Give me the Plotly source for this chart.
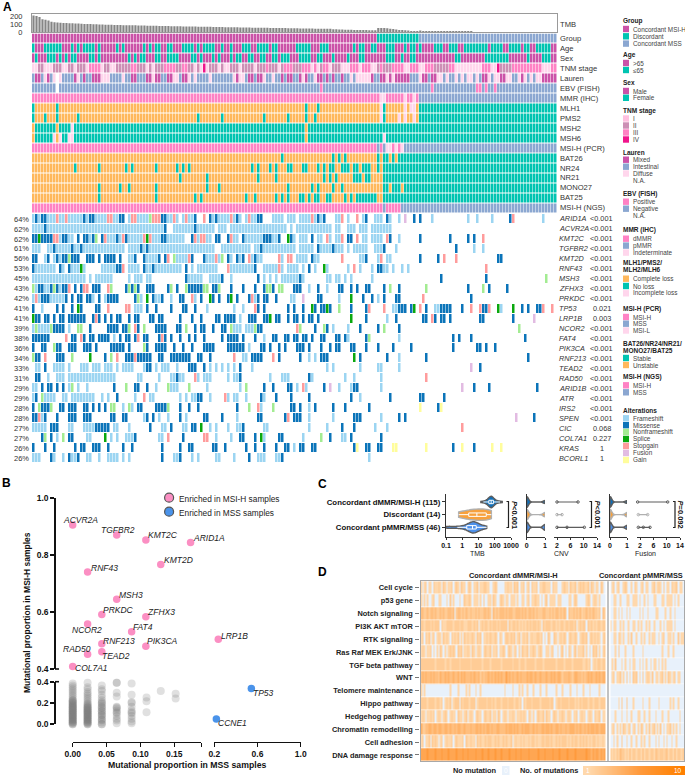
import re
import numpy as np
import plotly.graph_objects as go

W, H = 685, 775
FONT = "Liberation Sans"

# ---- panel A data ----
TMB_MSI = [215, 210, 198, 168, 160, 152, 135, 128, 125, 122,
           120, 118, 116, 115, 113, 112, 110, 108, 107, 105,
           103, 102, 100, 99, 98, 97, 96, 95, 94, 93,
           92, 91, 90, 90, 89, 88, 87, 86, 85, 85,
           84, 83, 82, 81, 80, 80, 79, 78, 78, 77,
           76, 75, 75, 74, 73, 72, 72, 71, 70, 70,
           69, 68, 68, 67, 66, 66, 65, 64, 64, 63,
           62, 62, 61, 60, 60, 59, 58, 58, 57, 56,
           56, 55, 55, 54, 54, 53, 52, 52, 51, 50,
           50, 49, 48, 48, 47, 46, 46, 45, 45, 44,
           40, 38, 36, 35, 34, 33, 32, 31, 30, 29,
           28, 28, 27, 26, 25]
TMB_DISC = [55, 55, 54, 52, 45, 42, 35, 30, 28, 25, 22, 18, 12, 8]
TMB_MSS = [22, 18, 16, 14, 13, 12, 11, 10, 9, 8, 7, 6, 6, 5, 5, 4, 4, 4, 3, 3, 3, 3, 3,
           2, 2, 2, 2, 2, 2, 2, 2, 2, 1, 1, 1, 1, 1, 1, 1, 1, 1, 1, 1, 1, 1, 1]

CLINICAL_ROWS = ["Group", "Age", "Sex", "TNM stage", "Lauren", "EBV (FISH)", "MMR (IHC)", "MLH1",
                 "PMS2", "MSH2", "MSH6", "MSI-H (PCR)", "BAT26", "NR24", "NR21", "MONO27", "BAT25",
                 "MSI-H (NGS)"]
# each row: fill code, then sample ranges that differ from it
CLINICAL_CELLS = [
    ("b", "0-114m 115-128t"),
    ("m", "0t 4-9t 13t 15t 17-20t 22t 28t 30t 37t 39t 41-42t 45-46t 50-53t 55t 57-60t 63t 66t 70-72t 75-78t "
          "80-81t 88-92t 96-98t 107t 109-110t 113-114t 118-120t 124t 126-127t 129t 134-136t 139-141t "
          "144-151t 153-156t 159-162t 164-165t 168-172t"),
    ("m", "1t 5-7t 9t 11t 13-14t 19-20t 22t 32t 34t 36-37t 41-42t 45t 46-48t 53-54t 56t 60t 62t 66t 68-69t "
          "72-73t 76-77t 80-81t 83-85t 89-92t 95-96t 100t 105t 109-110t 118-120t 123t 126-127t 141-142t "
          "151-158t 165t 170-172t"),
    ("r", "0-1l 4-6l 10-11l 14l 18l 19-22p 23l 26-27l 33-34p 38l 40l 44-47p 50-51p 54l 56l 57h 58l 62l "
          "64-65l 69l 74l 78p 82l 84-86p 90-92p 93l 94p 95l 97-98p 99l 103-105l 106-108p 109l 110-112p "
          "113-114l 116p 120-123p 124-125l 126-128p 129-130l 131-133p 139-140p 141-149l 150-152p 153-154l "
          "155h 160-169p 170-172l 173-174p"),
    ("b", "1-2m 4l 5m 7l 8w 9l 14m 15l 17m 20-22m 23-25l 30l 33-34m 38-39m 40l 41-42m 45-46m 47l 48l 50-51m "
          "52l 54l 59l 67l 68m 69-70l 72-73m 75-76m 77l 80l 83m 85-86m 89m 90l 91m 94l 95-96m 98m 100m "
          "103m 106l 108-112l 113m 116-117m 118l 119m 120l 121-125m 129l 130-131m 133-134m 135-136l "
          "138l 141l 143l 145-146l 148l 150l 150-151m 152l 154-155l 156-157m 158-159l 162l 163m 164l "
          "166l 168-169l 170-174m"),
    ("b", "8w 96p 133p 148-149p 151p 154p"),
    ("p", "116-117l 124l 127l 129-174b"),
    ("g", "0t 8t 91t 95t 116l 117t 124l 126-127l 129-174t"),
    ("g", "0t 4t 8t 15t 55t 63t 77t 85t 91t 94t 116l 117t 122l 124l 127l 129-174t"),
    ("t", "0g 8g 13l 91g"),
    ("t", "0g 7l 8g 9l 12-13l 91g 117l"),
    ("p", "115b 117b 118-119l 121l 123l 124-174b"),
    ("g", "83t 100t 102t 104t 115t 117-118t 120t 122-174t"),
    ("g", "14t 22t 31t 33t 41t 48t 50t 52t 73t 75t 79t 81t 85-86t 90-91t 95t 97t 99-100t 103-105t 107-108t "
          "110-112t 115t 117-174t"),
    ("g", "49t 58t 75t 81t 97t 99t 101t 107-109t 111-112t 117-174t"),
    ("g", "22t 29t 32t 41t 58t 62t 85t 93t 95t 100t 103t 117-118t 120-122t 124-174t"),
    ("g", "22t 41t 54t 56t 71t 74t 81t 83t 85t 89-90t 92t 94-95t 98-99t 104t 106t 108-114t 117-174t"),
    ("p", "117b 123-174b"),
]

GENES = ["ARID1A", "ACVR2A", "KMT2C", "TGFBR2", "KMT2D", "RNF43", "MSH3", "ZFHX3", "PRKDC", "TP53", "LRP1B",
         "NCOR2", "FAT4", "PIK3CA", "RNF213", "TEAD2", "RAD50", "ARID1B", "ATR", "IRS2", "SPEN", "CIC",
         "COL7A1", "KRAS", "BCORL1"]
GENE_PCT = ["64%", "62%", "62%", "61%", "56%", "53%", "45%", "43%", "42%", "41%", "41%", "39%", "38%", "36%",
            "34%", "33%", "31%", "29%", "29%", "28%", "28%", "27%", "27%", "26%", "26%"]
GENE_P = ["<0.001", "<0.001", "<0.001", "<0.001", "<0.001", "<0.001", "<0.001", "<0.001", "<0.001", "0.021",
          "0.003", "<0.001", "<0.001", "<0.001", "<0.001", "<0.001", "<0.001", "<0.001", "<0.001", "<0.001",
          "<0.001", "0.068", "0.227", "1", "1"]
# F frameshift, M missense, N nonframeshift, S splice, T stopgain, U fusion, G gain
GENE_CELLS = [
    "0F 1M 2F 3-4M 5-7F 8T 9-10F 11T 12-16F 17M 18F 19-20M 21-24F 25-26T 27-28F 29-30M 32F 33-34T 35-38F 39N "
    "40-42T 43-44M 45-46F 47T 48F 50F 51T 52-53F 54M 57T 59M 60F 61M 62-65F 66T 67F 68M 69F 71F 72T 73-74F "
    "75-76M 80-83F 85-87F 89-92F 93T 94F 95M 96F 97M 101-102F 103T 105F 108T 110F 111M 114-116F 118M 119F "
    "122F 124U 127M 129M 133F 145F 148F 153F 159M 160T 170F",
    "0-3F 4M 5-43F 44M 47-53F 54M 55-60F 62-64F 66-84F 86F 88-99F 101-102F 105-107F 109-111F 113-119F",
    "0-1M 2S 3-6M 7-8T 9F 10-11M 12-13F 15M 17-18M 19F 20M 21N 23M 24T 25-27F 28M 29F 30T 31M 32-35F 36F 37T "
    "38S 39T 40-42F 43-44M 45-50F 53M 54T 55F 56-57T 58-59F 61-62M 65M 66T 67-68F 70M 71-76F 77-79M 80-81F "
    "82M 85S 86M 87F 89-91F 93M 95-96F 98T 99F 101-102F 103T 105-106M 108T 110-111F 113-116F 118T 119M 122F "
    "129M 139M 145M 147M 150T",
    "0-2F 5-6F 7M 8-12F 13M 14-15F 16M 17-30F 32-35F 36M 37F 38M 39-60F 63-72F 74-75F 76M 77-87F 89-93F 95M "
    "96-99F 100M 101-102F 103F 105F 107-111F 114-116F 117M 121F 141M 147F 150F",
    "0-1M 4F 5M 7F 8M 9F 10-11M 12N 13-15M 18-20M 22M 24-27M 29M 32-33F 34M 37M 38-41F 42M 44M 45T 47N 48-51F "
    "52T 53M 57M 58-60F 61T 62F 63N 65M 66F 68M 69F 70M 72T 73F 74M 75-76F 82T 83F 85-86T 88-91F 93M 94-95F "
    "103T 109-110F 111M 115F 116T 118-119F 129M 135M 137T 141T 155-156M",
    "0M 1-7F 9M 10F 12M 13-15F 16S 17F 23-27F 28-29M 30T 32-35F 37M 38-39F 40M 41-49F 51M 53F 55-61F 65T "
    "66-73F 74M 77-81F 82T 83F 85-88F 90F 92M 94F 97S 98F 105F 107T 109F 113F 115-116M 117-118F 120F 123F "
    "125F 151T",
    "0-17F 19F 21-26F 32F 34-36F 38-39F 51M 52-56F 59-62F 63M 66F 75M 77F 79F 81F 83-88F 89M 90F 98-99F "
    "101-102F 104F 106F 113F 136M 151M 171N",
    "0N 1F 2-3M 4-5F 6M 7N 8M 9F 10-11M 12T 14M 16M 17-18T 20-22M 25T 26N 31M 32N 33M 34N 35M 38-40M 45M 46N "
    "48M 51N 52-56M 57-58N 60-61M 62N 66M 70M 74M 77M 78-79N 80M 82-83N 87-89M 92F 95M 98F 102-103M 106M 108M "
    "111-112M 117M 119N 122M 131N 145M 150N 152M 158M",
    "0F 1T 2F 3-5M 6-10F 11M 13M 15-16M 18-19M 20F 22M 24F 25-28M 34M 35N 36F 38S 40M 41-42F 43M 46F 49-50M "
    "53T 54F 56M 59S 60M 62M 65M 66S 68M 72M 73T 74F 75M 77-78M 81M 86-87F 90U 95-96M 102F 106S 110M 113M "
    "115F 117M 121-122M 130T 146M",
    "0M 3F 8M 10M 13M 15S 16M 21-22M 25T 31-32T 34-35F 36F 38M 41M 46M 50-51M 54M 58F 67F 70F 74T 75M 77M 85M "
    "87M 90M 93S 94M 96-97M 98S 99M 102N 106M 111M 112T 117T 120-121F 122-124M 126M 127S 129T 131M 134-135F "
    "136-139M 143M 146T 149T 150-151M 152T 155S 156F 160S 163M 165M 168-169M 170T 173T",
    "0S 1-2M 4-5M 7M 9-10M 12-17M 20M 21T 22M 24M 26M 28-29M 32M 34-35M 39-40M 42-43M 49M 53M 56M 61-62M "
    "64-67M 69F 72-74M 77-78M 79S 81-82M 85M 87-88M 90M 92-93M 95M 106S 111M 118F 121M 130-131M 133T 134M "
    "136-137M 139M 149-150M 160M 167U",
    "0F 1N 2-5F 6N 7-10M 12F 15-16N 19M 25-28M 30-31M 32N 34T 35M 37N 41-44M 48-49M 51N 54M 56-57M 60M 63-64M "
    "66N 67-69F 71-73F 74N 75-76M 88T 89N 94M 97N 98M 100F 105F 109M 115M 117N 122M 162N",
    "0-5M 11T 13-14M 16T 17M 19-20M 22-25M 27F 29M 31-32M 34M 35T 37-38M 42M 43T 44M 46M 49M 52M 54M 57M 63M "
    "65-68M 70M 74M 77F 80-81M 84M 85M 87-88M 90-91M 93M 96-97M 101-102M 104M 105F 111M 112N 122F 140M 142M "
    "146M 164M",
    "0M 3-4M 7N 8-9M 12-14M 17-19M 21M 26-30M 32M 37N 38M 41-44M 47M 50M 53M 57-60M 65M 66-70M 72F 76-77M 79M "
    "82M 84M 88-90M 92M 96M 99M 101-102M 106-107M 111M 115M 120M 126M 140M 148-149M 151M 154M",
    "0N 1-2M 4T 8-10M 13N 19S 24M 26N 28T 31-33M 34T 35-39M 42-43M 46M 47-49M 50-52M 55-56M 59M 67T 70-71F "
    "73-76M 80T 82M 89M 92F 94F 96-98M 107S 109M 118M 122F 131M 165M",
    "1-2F 4M 7-10F 12F 16-18F 20-22F 24-26F 28F 30-33F 37F 38-39M 41F 43-45F 48F 52-54M 57M 59F 61F 63F 65F "
    "67F 69M 73F 98F 100F 109F 115-116F 122F 146U 149M",
    "1-2M 5F 8-10F 12-27F 35-36F 42F 46-47F 48M 49-50F 54T 55F 57-59F 65F 67-68F 69M 79F 83-85F 92M 93F 104F "
    "107F 116F 131T",
    "0-1F 3M 5-6M 8M 10M 12F 13N 15F 18F 27M 31N 34-35M 38M 41F 45N 46-48F 52N 58F 69F 71N 77M 80M 85-86M 88F "
    "90T 91F 97M 99U 102F 106F 107-108M 116F 143U 147M 152M 168M",
    "0F 1M 3N 4-7F 10-11F 13-19F 20F 23F 25F 28M 34F 37T 39-40F 49F 51F 53-54F 55-56M 59F 64T 65F 67-68F 71F "
    "76M 77F 81M 86M 92M 106M 109F 119M 129-130M 137M",
    "0M 2N 3-5M 6N 9-10M 12-14M 17-18M 20M 22M 24M 26-27N 30F 32N 33F 35-36M 41-44M 45N 49M 52M 55M 68M 72N "
    "75T 76F 80N 86-87M 89M 92F 94M 100M 104M 112M 129G 135M 136G",
    "0-1M 2T 3F 4M 8M 12-14M 17-19M 26-27M 30-31M 37F 38M 40M 42F 45F 49M 51F 57-58M 63M 68F 75-76M 84M 85T "
    "87-89M 92F 100F 107-109M 116F 122M 124M 161U 167M",
    "0-4F 6-8M 12-13F 17-20F 21-25M 27-28F 32F 39M 43-44F 46M 50-51F 53-54M 56S 59F 61F 65F 68-69F 70M 77-78F "
    "92F 98F 103M 107M 114F 118F 143T",
    "3M 4N 6M 8F 10N 12-13M 18-19F 24S 26F 28F 31-33F 34M 42-43F 45T 50M 57-58T 61F 66F 69-70M 74M 76S 77F "
    "82-83M 90F 96N 99M 103-104F 106M 116M",
    "0M 4M 7M 14M 16-17M 20-22M 25M 30M 33M 43M 49M 52-53M 60-61M 64M 71M 74M 77M 81M 84-85M 87F 89-90M 93-94M "
    "107M 108G 111-112M 115-116M 120-121G 131G 140M 143G 147M 153G 156G",
    "0-2F 6M 7F 10F 12M 13-14F 15M 18-19F 22F 25-28F 30F 32F 43M 47-48F 49M 53F 55F 61-62F 67F 72M 75-77F "
    "81-82F 83M 112F",
]

CELL_COLORS = {"w": "#ffffff", "m": "#cb52a8", "t": "#00c4b1", "b": "#8ba7d1", "g": "#ffb85c", "p": "#ff82c4",
               "l": "#ffd6ec", "r": "#cd8fb5", "h": "#f0148c", "F": "#9cd5f2", "M": "#0b74b9", "N": "#a3ec92",
               "S": "#0aa80e", "T": "#ff9c9c", "U": "#e2bbe2", "G": "#fffd9c"}

LEGEND = [
    (["Group"], 21, [("Concordant MSI-H", 29, "#cb52a8"), ("Discordant", 36.3, "#00c4b1"),
                     ("Concordant MSS", 43.6, "#8ba7d1")]),
    (["Age"], 55.3, [(">65", 63, "#cb52a8"), ("≤65", 70, "#00c4b1")]),
    (["Sex"], 82.7, [("Male", 91, "#cb52a8"), ("Female", 97.8, "#00c4b1")]),
    (["TNM stage"], 111, [("I", 118.5, "#ffc0e0"), ("II", 125.5, "#cd8fb5"), ("III", 132.5, "#ff82c4"),
                          ("IV", 139.5, "#f0148c")]),
    (["Lauren"], 152, [("Mixed", 159.7, "#cb52a8"), ("Intestinal", 166.7, "#8ba7d1"), ("Diffuse", 173.5, "#ffd6ec"),
                       ("N.A.", 180.5, None)]),
    (["EBV (FISH)"], 193.7, [("Positive", 201.7, "#ff82c4"), ("Negative", 208.7, "#8ba7d1"), ("N.A.", 215.5, None)]),
    (["MMR (IHC)"], 229.5, [("dMMR", 238.7, "#ff82c4"), ("pMMR", 245.6, "#8ba7d1"),
                            ("Indeterminate", 252.6, "#ffd6ec")]),
    (["MLH1/PMS2/", "MLH2/MLH6"], 262.3, [("Complete loss", 278.7, "#ffb85c"), ("No loss", 286, "#00c4b1"),
                                          ("Incomplete loss", 293.3, "#ffd6ec")]),
    (["MSI-H (PCR)"], 308.7, [("MSI-H", 317, "#ff82c4"), ("MSS", 323.7, "#8ba7d1"), ("MSI-L", 330.5, "#ffd6ec")]),
    (["BAT26/NR24/NR21/", "MONO27/BAT25"], 343.3, [("Stable", 358, "#00c4b1"), ("Unstable", 365, "#ffb85c")]),
    (["MSI-H (NGS)"], 377.3, [("MSI-H", 385.3, "#ff82c4"), ("MSS", 392.3, "#8ba7d1")]),
    (["Alterations"], 410.3, [("Frameshift", 418.3, "#9cd5f2"), ("Missense", 425.2, "#0b74b9"),
                              ("Nonframeshift", 432, "#a3ec92"), ("Splice", 439, "#0aa80e"),
                              ("Stopgain", 446, "#ff9c9c"), ("Fusion", 453, "#e2bbe2"), ("Gain", 460, "#fffd9c")]),
]

# ---- panel B data ----
ENRICHED_GENES = ["ACVR2A", "TGFBR2", "KMT2C", "ARID1A", "KMT2D", "RNF43", "MSH3", "PRKDC", "ZFHX3", "NCOR2",
                  "FAT4", "RNF213", "PIK3CA", "TEAD2", "RAD50", "COL7A1"]
ENRICHED_MSS = [0.0, 0.065, 0.108, 0.174, 0.130, 0.022, 0.065, 0.043, 0.108, 0.022, 0.087, 0.043, 0.108, 0.043,
                0.022, 0.0]
ENRICHED_MSI = [0.906, 0.871, 0.853, 0.845, 0.767, 0.741, 0.645, 0.592, 0.584, 0.558, 0.531, 0.489, 0.480, 0.461,
                0.452, 0.409]
LRP1B_POINT = (0.237, 0.505)
MSS_GENES = ["TP53", "CCNE1"]
MSS_GENE_X = [0.543, 0.219]
MSS_GENE_Y = [0.335, 0.05]
LABEL_SHIFTS = {"ACVR2A": (8, -5), "TGFBR2": (1, -5), "KMT2C": (17, -5), "ARID1A": (18, -4), "KMT2D": (18, -5),
                "RNF43": (17, -4), "MSH3": (14, -4), "PRKDC": (17, -4), "ZFHX3": (15, -5), "NCOR2": (-1, 6),
                "FAT4": (11, -5), "RNF213": (17, -3), "PIK3CA": (17, -5), "TEAD2": (14, 4), "RAD50": (-11, -5),
                "COL7A1": (19, 2), "LRP1B": (16, -3), "TP53": (12, 4), "CCNE1": (16, 4)}

OTHER_X = [0.0, 0.022, 0.043, 0.065, 0.087, 0.109, 0.130, 0.152]
OTHER_Y = [
    [0.0, 0.009, 0.017, 0.026, 0.035, 0.043, 0.052, 0.061, 0.07, 0.078, 0.087, 0.096, 0.104, 0.113, 0.122, 0.13,
     0.139, 0.148, 0.157, 0.165, 0.174, 0.183, 0.191, 0.2, 0.209, 0.217, 0.226, 0.243, 0.261, 0.278, 0.296, 0.313,
     0.33, 0.348, 0.365, 0.383, 0.0, 0.017, 0.035, 0.052, 0.07, 0.087, 0.104, 0.122, 0.139, 0.157, 0.174, 0.2, 0.226],
    [0.0, 0.009, 0.017, 0.026, 0.035, 0.043, 0.052, 0.061, 0.07, 0.078, 0.087, 0.096, 0.104, 0.113, 0.122, 0.13,
     0.139, 0.148, 0.157, 0.165, 0.174, 0.183, 0.191, 0.2, 0.217, 0.235, 0.252, 0.27, 0.287, 0.304, 0.33, 0.348,
     0.391, 0.0, 0.017, 0.035, 0.052, 0.07, 0.087, 0.104, 0.122, 0.139, 0.157],
    [0.0, 0.017, 0.035, 0.052, 0.07, 0.087, 0.104, 0.122, 0.139, 0.157, 0.174, 0.191, 0.209, 0.226, 0.252, 0.278,
     0.313, 0.33, 0.365, 0.0, 0.043, 0.087, 0.122, 0.157, 0.2],
    [0.009, 0.035, 0.052, 0.078, 0.104, 0.113, 0.13, 0.148, 0.157, 0.165, 0.261, 0.296, 0.391, 0.391],
    [0.009, 0.026, 0.052, 0.078, 0.104, 0.113, 0.13, 0.165, 0.2, 0.209, 0.278, 0.383],
    [0.113, 0.217, 0.252],
    [0.313],
    [0.243, 0.287],
]

# ---- panel C data ----
CONCORDANCE = ["Concordant dMMR/MSI-H (115)", "Discordant (14)", "Concordant pMMR/MSS (46)"]
TMB_SAMPLES = [
    [14, 20, 25, 30, 35, 38, 40, 42, 45, 48, 50, 52, 55, 55, 58, 60, 60, 62, 65, 68, 70, 72, 75, 80, 85, 90, 100,
     115, 130, 160, 210, 290],
    [0.6, 0.9, 1.5, 2.5, 4, 5.5, 7, 9, 14, 22, 30, 40, 52, 62],
    [0.1, 0.15, 0.25, 0.5, 0.8, 1.2, 1.6, 2, 2.5, 3, 3.3, 3.6, 4, 4, 4.3, 4.6, 5, 5, 5.5, 6, 6.5, 7, 8, 9, 11, 14,
     18, 24, 32],
]
COUNT_VALUES = [0, 1]
CNV_COUNTS = [[90, 25], [10, 4], [30, 16]]
FUSION_COUNTS = [[92, 23], [10, 4], [34, 12]]
CNV_HIGH = [[2, 8.3], [2, 3.5], [2, 5, 10.2]]
FUSION_HIGH = [[1.3, 10.3], [1.5, 4.3], [1.5, 3, 5]]
P_LABELS = ["<i>P</i><0.001", "<i>P</i><0.001", "<i>P</i>=0.092"]

# ---- panel D data ----
PATHWAYS = ["Cell cycle", "p53 gene", "Notch signaling", "PI3K AKT mTOR", "RTK signaling", "Ras Raf MEK Erk/JNK",
            "TGF beta pathway", "WNT", "Telomere maintenance", "Hippo pathway", "Hedgehog pathway",
            "Chromatin remodelling", "Cell adhesion", "DNA damage response"]
PATHWAY_MSI = [
    "1012011021 1210210112 0121021101 2101120112 2110012100 0011211021 2011201202 1120112211 1021100012 1102112012 1211202101 10210",
    "1010100120 0110001020 1000100211 2101110102 0011021001 2101101110 1001101201 1211010120 1111011100 0011012100 0001210121 01000",
    "3322323323 2232322332 3023323232 2322323223 3232032323 3323233223 3323232332 3232223322 3232332323 2032232323 1223232322 12032",
    "2212221212 2202112222 1222122112 2212120121 2212122121 2222021221 2121212121 2212102122 2122121221 2212212012 1220212121 22122",
    "1202120120 1210212102 1212010212 1121021201 1212112102 1012212120 1201212012 1122120102 1002101212 1012112101 2212012121 21012",
    "1210112010 1021010121 2102120112 1021012101 2112011201 1210121012 0102112011 2101210011 0120010120 1021012011 1201010212 01012",
    "2222222221 2222212212 2222122222 2122222212 2221222222 1222222122 2122212222 2122221222 2222122221 2222122222 2112120121 22122",
    "3434334343 3243343433 4334243433 3434334232 3343434343 4335343433 4343334344 3433433343 3434344323 3343234433 2323434334 34344",
    "1010000000 0000000010 0001000010 1000100100 0000000000 0010000100 0101001000 1000100010 0000100010 0001000100 0100010000 01000",
    "2222122221 2212012120 1222021222 1222012222 2122121222 1222122212 2120212221 2222122222 1220122122 2212221212 1222122122 21222",
    "1210112120 1210121012 1102110120 1210121101 2112011021 0121011210 1121210210 1012112021 1012101121 0121011201 2110121021 12011",
    "4223344344 3443344343 3434433433 3433443434 3443433443 3334344343 4334344433 4343344344 3433443433 4334443434 3343434434 43444",
    "1201120212 1012012112 0121112021 1211021211 2122112121 1212112012 1121211212 2121122122 1211212122 2121212212 1212121221 21121",
    "5555655556 5556555655 5565556556 5555655565 5565556555 6555565556 5565555655 5556555655 5565556555 5655556555 5556554545 54545",
]
PATHWAY_MSS = [
    "0120120012 1001021001 2011001201 2102011021 120110",
    "0011001000 1100111010 0101000110 0011011110 101000",
    "0011010100 1010000010 1001000011 0000100100 100000",
    "1011001010 0100110101 0010100100 0101011110 100000",
    "0011021010 0102001001 0100101100 1012001101 002011",
    "0001020001 0000100000 1000000000 0010001001 000000",
    "0102000101 0010110010 1010010110 1010100000 000000",
    "0120112010 2010212010 2012102011 0120102101 201100",
    "0000000000 0000000000 0000000000 0000000000 000000",
    "0000010200 2000100000 1000100000 1000000101 001000",
    "0001000100 1001000110 0100100010 0010001000 000100",
    "0120101021 0120120102 1010201201 0201011201 010100",
    "0010100200 1001001001 0100100010 1001010010 010000",
    "2121213221 2131221221 3122122132 1221231221 312212",
]
MUTATION_SCALE = [[0, "#e8f1fb"], [0.0999, "#e8f1fb"], [0.1, "#ffd8ac"], [0.6, "#ff9a3c"], [1, "#ff8000"]]
GRADIENT_VALUES = [1, 2, 3, 4, 5, 6, 7, 8, 9, 10]


def fx(px):
    return px / W


def fy(py):
    return 1 - py / H


fig = go.Figure()
notes = []
shapes = []
layout = {}
n_axes = 0


def note(text, x, y, size=7.5, color="#333333", anchor="left", **kw):
    notes.append(dict(text=text, x=fx(x), y=fy(y), xref="paper", yref="paper", showarrow=False, xanchor=anchor,
                      yanchor="middle", font=dict(family=FONT, size=size, color=color), borderpad=0, **kw))


def add_axes(xdom, ydom, xrange, yrange, xopts=None, yopts=None):
    # one x/y pair placed by pixel box
    global n_axes
    n_axes += 1
    key = "" if n_axes == 1 else str(n_axes)
    xa = dict(domain=[fx(xdom[0]), fx(xdom[1])], range=xrange, anchor="y" + key, visible=False, type="linear",
              fixedrange=True)
    ya = dict(domain=[fy(ydom[1]), fy(ydom[0])], range=yrange, anchor="x" + key, visible=False, type="linear",
              fixedrange=True)
    xa.update(xopts or {})
    ya.update(yopts or {})
    layout["xaxis" + key] = xa
    layout["yaxis" + key] = ya
    return "x" + key, "y" + key


def parse_cells(spec, fill, n=175):
    cells = [fill] * n
    for start, end, code in re.findall(r"(\d+)(?:-(\d+))?([A-Za-z])", spec):
        for i in range(int(start), int(end or start) + 1):
            cells[i] = code
    return cells


def code_scale(codes):
    scale = []
    for i, c in enumerate(codes):
        scale += [[i / len(codes), CELL_COLORS[c]], [(i + 1) / len(codes), CELL_COLORS[c]]]
    return scale


def code_heatmap(rows, xa, ya):
    codes = list(CELL_COLORS)
    z = [[codes.index(c) for c in row] for row in rows]
    fig.add_trace(go.Heatmap(z=z, colorscale=code_scale(codes), zmin=-0.5, zmax=len(codes) - 0.5, showscale=False,
                             xgap=0.5, ygap=1, xaxis=xa, yaxis=ya, hoverinfo="skip"))


# ---- panel A ----
tmb = TMB_MSI + TMB_DISC + TMB_MSS
xa, ya = add_axes((32, 556.7), (14, 32.3), [-0.5, 174.5], [0, 235],
                  dict(visible=True, showline=True, mirror=True, linecolor="#9a9a9a", linewidth=1, showticklabels=False,
                       ticks="", showgrid=False, zeroline=False),
                  dict(visible=True, showline=True, mirror=True, linecolor="#9a9a9a", linewidth=1, ticks="",
                       tickvals=[0, 100, 200], showgrid=False, zeroline=False, ticklabelstandoff=7,
                       tickfont=dict(family=FONT, size=7.5, color="#333333")))
fig.add_trace(go.Bar(x=list(range(len(tmb))), y=tmb, marker=dict(color="#858585", line=dict(width=0)), width=0.72,
                     xaxis=xa, yaxis=ya, hoverinfo="skip", showlegend=False))
note("TMB", 559, 24, 7.6)

xa, ya = add_axes((32, 557), (33.5, 213), [-0.5, 174.5], [17.5, -0.5])
code_heatmap([parse_cells(spec, fill) for fill, spec in CLINICAL_CELLS], xa, ya)
for i, label in enumerate(CLINICAL_ROWS):
    note(label, 559, 38.4 + i * 9.97, 7.6)

xa, ya = add_axes((32, 557), (214, 463), [-0.5, 174.5], [24.5, -0.5],
                  None,
                  dict(visible=True, tickvals=list(range(len(GENES))), ticktext=GENE_PCT, ticks="", showgrid=False,
                       zeroline=False, showline=False, ticklabelstandoff=2,
                       tickfont=dict(family=FONT, size=7.5, color="#333333")))
code_heatmap([parse_cells(spec, "w") for spec in GENE_CELLS], xa, ya)
for i, gene in enumerate(GENES):
    note("<i>" + gene + "</i>", 558, 218.9 + i * 9.97, 7.3)
    note(GENE_P[i], 601.5, 218.9 + i * 9.97, 7.3, anchor="center")

for title, top, items in LEGEND:
    for j, line in enumerate(title):
        note("<b>" + line + "</b>", 622.3, top + j * 6.9, 6.5, color="#222222")
    for label, y, color in items:
        note(label, 631.7, y, 6.4, color="#444444")
        if color:
            shapes.append(dict(type="rect", xref="paper", yref="paper", x0=fx(623), x1=fx(629), y0=fy(y - 3.2),
                               y1=fy(y + 3.2), fillcolor=color, line_width=0))

# ---- panel B ----
axis_font = dict(family=FONT, size=8.5, color="#111111")
y_common = dict(visible=True, anchor="free", position=fx(55), showline=True, linecolor="#111111", linewidth=1.6,
                ticks="outside", ticklen=4, tickwidth=1.6, tickcolor="#111111", showgrid=False, zeroline=False,
                tickfont=axis_font, tickformat=".1f")
x_common = dict(visible=True, anchor="free", position=fy(741.7), showline=True, linecolor="#111111", linewidth=1.2,
                ticks="outside", ticklen=4, tickwidth=1.2, tickcolor="#111111", showgrid=False, zeroline=False,
                tickfont=axis_font, side="bottom", tickangle=0)
x_left = (72.7, 201)
x_right = (214.3, 300.7)
y_up = (498.3, 669)
y_low = (681.7, 724.3)
left_end = (201 - 72.7) / 677.3
xa_ul, ya_ul = add_axes(x_left, y_up, [0, left_end], [0.4, 1.0], None,
                        dict(y_common, tickvals=[0.4, 0.6, 0.8, 1.0], ticktext=["<b>0.4</b>", "<b>0.6</b>", "<b>0.8</b>", "<b>1.0</b>"]))
xa_ur, ya_ur = add_axes(x_right, y_up, [0.2, 1.0], [0.4, 1.0])
xa_ll, ya_ll = add_axes(x_left, y_low, [0, left_end], [0, 0.4],
                        dict(x_common, tickvals=[0, 0.05, 0.10, 0.15, left_end],
                             ticktext=["<b>0.00</b>", "<b>0.05</b>", "<b>0.10</b>", "<b>0.15</b>", ""]),
                        dict(y_common, tickvals=[0, 0.2, 0.4], ticktext=["<b>0.0</b>", "<b>0.2</b>", "<b>0.4</b>"]))
xa_lr, ya_lr = add_axes(x_right, y_low, [0.2, 1.0], [0, 0.4],
                        dict(x_common, tickvals=[0.2, 0.6, 1.0], ticktext=["<b>0.2</b>", "<b>0.6</b>", "<b>1.0</b>"]))
for x, ys in zip(OTHER_X, OTHER_Y):
    fig.add_trace(go.Scatter(x=[x] * len(ys), y=ys, mode="markers", cliponaxis=False,
                             marker=dict(size=8, color="#7c7c7c", opacity=0.24, line_width=0),
                             xaxis=xa_ll, yaxis=ya_ll, hoverinfo="skip", showlegend=False))
pink = "#fb8fc3"
blue = "#4a93ea"
fig.add_trace(go.Scatter(x=ENRICHED_MSS, y=ENRICHED_MSI, mode="markers", cliponaxis=False,
                         marker=dict(size=7.5, color=pink), xaxis=xa_ul, yaxis=ya_ul, hoverinfo="skip", showlegend=False))
fig.add_trace(go.Scatter(x=[LRP1B_POINT[0]], y=[LRP1B_POINT[1]], mode="markers", cliponaxis=False,
                         marker=dict(size=7.5, color=pink), xaxis=xa_ur, yaxis=ya_ur, hoverinfo="skip", showlegend=False))
fig.add_trace(go.Scatter(x=MSS_GENE_X, y=MSS_GENE_Y, mode="markers", cliponaxis=False,
                         marker=dict(size=7.5, color=blue), xaxis=xa_lr, yaxis=ya_lr, hoverinfo="skip", showlegend=False))


def gene_label(gene, x, y, xa, ya):
    dx, dy = LABEL_SHIFTS[gene]
    notes.append(dict(text="<i>" + gene + "</i>", x=x, y=y, xref=xa, yref=ya, showarrow=False, xshift=dx, yshift=-dy,
                      xanchor="center", yanchor="middle", font=dict(family=FONT, size=8.5, color="#222222")))


for gene, x, y in zip(ENRICHED_GENES, ENRICHED_MSS, ENRICHED_MSI):
    gene_label(gene, x, y, xa_ul, ya_ul)
gene_label("LRP1B", LRP1B_POINT[0], LRP1B_POINT[1], xa_ur, ya_ur)
for gene, x, y in zip(MSS_GENES, MSS_GENE_X, MSS_GENE_Y):
    gene_label(gene, x, y, xa_lr, ya_lr)

for y, color, text in [(497.7, pink, "Enriched in MSI-H samples"), (511.7, blue, "Enriched in MSS samples")]:
    shapes.append(dict(type="circle", xref="paper", yref="paper", x0=fx(164.6), x1=fx(173.6), y0=fy(y + 4.5),
                       y1=fy(y - 4.5), fillcolor=color, line=dict(color="#555555", width=1.2)))
    note(text, 177.7, y + 0.8, 8.3, color="#222222")
for y in (669, 681.7):
    shapes.append(dict(type="line", xref="paper", yref="paper", x0=fx(55), x1=fx(59), y0=fy(y), y1=fy(y),
                       line=dict(color="#111111", width=1.6)))
note("<b>Mutational proportion in MSI-H samples</b>", 27, 613, 8.5, color="#111111", anchor="center", textangle=-90)
note("<b>Mutational proportion in MSS samples</b>", 186.7, 765, 8.7, color="#111111", anchor="center")

# ---- panel C ----
VIOLIN_FILL = ["#0f6fb9", "#f7a13d", "#4c90ea"]
VIOLIN_LINE = ["#5d5d5d", "#b0b0b0", "#5d5d5d"]
c_font = dict(family=FONT, size=7, color="#111111")
c_y = (494, 536.7)
c_yrange = [2.74, -0.63]
c_x = dict(visible=True, showline=True, linecolor="#333333", linewidth=1.4, ticks="outside", ticklen=2, tickwidth=1.4,
           tickcolor="#333333", showgrid=False, zeroline=False, tickfont=c_font, tickangle=0)
c_yl = dict(visible=True, showline=True, linecolor="#333333", linewidth=1.4, showgrid=False, zeroline=False,
            tickvals=[], showticklabels=False)

xa, ya = add_axes((446, 511), c_y, [-1, 3], c_yrange,
                  dict(c_x, tickvals=[-1, 0, 1, 2, 3], ticktext=["<b>0.1</b>", "<b>1</b>", "<b>10</b>", "<b>100</b>", "<b>1000</b>"]),
                  dict(c_yl, tickvals=[0, 1, 2], ticktext=["<b>" + c + "</b>" for c in CONCORDANCE], showticklabels=True,
                       ticks="outside", ticklen=3, tickwidth=1.2, tickcolor="#333333", tickfont=dict(family=FONT, size=7.8, color="#111111")))
for i, samples in enumerate(TMB_SAMPLES):
    fig.add_trace(go.Violin(x=np.log10(samples), y0=i, orientation="h", width=0.9, spanmode="hard",
                            fillcolor=VIOLIN_FILL[i], line=dict(color=VIOLIN_LINE[i], width=1.4),
                            points=False, box=dict(visible=True, width=0.3, fillcolor=VIOLIN_FILL[i], line=dict(color="#ffffff", width=1)),
                            meanline=dict(visible=False), xaxis=xa, yaxis=ya, hoverinfo="skip", showlegend=False))
note("TMB", 478, 553, 7, color="#222222", anchor="center")
note("CNV", 561.7, 553, 7, color="#222222", anchor="center")
note("Fusion", 645, 553, 7, color="#222222", anchor="center")

for left_box, right_box, right_range, counts, highs in [
    ((526.7, 545), (554, 597), [1.09, 14], CNV_COUNTS, CNV_HIGH),
    ((610, 627), (637, 680), [1.1, 14], FUSION_COUNTS, FUSION_HIGH),
]:
    xa, ya = add_axes(left_box, c_y, [0, 1], c_yrange, dict(c_x, tickvals=[0, 1], ticktext=["<b>0</b>", "<b>1</b>"]), c_yl)
    for i, row_counts in enumerate(counts):
        fig.add_trace(go.Violin(x=np.repeat(COUNT_VALUES, row_counts), y0=i, orientation="h", width=0.85, spanmode="hard",
                                bandwidth=0.1, fillcolor=VIOLIN_FILL[i], line=dict(color=VIOLIN_LINE[i], width=1.4),
                                points=False, xaxis=xa, yaxis=ya, hoverinfo="skip", showlegend=False))
    xa, ya = add_axes(right_box, c_y, right_range, c_yrange,
                      dict(c_x, tickvals=[2, 6, 10, 14], ticktext=["<b>2</b>", "<b>6</b>", "<b>10</b>", "<b>14</b>"]))
    for i, values in enumerate(highs):
        fig.add_trace(go.Scatter(x=values, y=[i] * len(values), mode="lines+markers", cliponaxis=False,
                                 line=dict(color=VIOLIN_LINE[i], width=1.2),
                                 marker=dict(size=2.5, symbol="circle-open", color=VIOLIN_LINE[i]),
                                 xaxis=xa, yaxis=ya, hoverinfo="skip", showlegend=False))

for bar_x, text_x, text in [(508.5, 514.5, P_LABELS[0]), (591.5, 597, P_LABELS[1]), (675, 680, P_LABELS[2])]:
    shapes.append(dict(type="path", xref="paper", yref="paper",
                       path="M %f %f L %f %f L %f %f L %f %f" % (fx(bar_x - 2), fy(501.5), fx(bar_x), fy(501.5),
                                                                 fx(bar_x), fy(527.5), fx(bar_x - 2), fy(527.5)),
                       line=dict(color="#222222", width=1.2)))
    note("<b>" + text + "</b>", text_x, 514.5, 7.5, color="#111111", anchor="center", textangle=90)

# ---- panel D ----
def digits(text, n):
    cells = [int(c) for c in text.replace(" ", "")][:n]
    return cells + [0] * (n - len(cells))


z_rows = [digits(a, 115) + [None] * 3 + digits(b, 46) for a, b in zip(PATHWAY_MSI, PATHWAY_MSS)]
xa, ya = add_axes((420.5, 684), (581.3, 761.4), [-0.5, 163.5], [13.5, -0.5],
                  dict(visible=True, showline=True, mirror=True, linecolor="#a8a8a8", linewidth=1.4, ticks="",
                       showticklabels=False, showgrid=False, zeroline=False),
                  dict(visible=True, showline=True, mirror=True, linecolor="#a8a8a8", linewidth=1.4,
                       tickvals=list(range(len(PATHWAYS))), ticktext=["<b>" + p + "</b>" for p in PATHWAYS],
                       ticks="outside", ticklen=4, tickwidth=1, tickcolor="#777777", showgrid=False, zeroline=False,
                       ticklabelstandoff=1, tickfont=dict(family=FONT, size=7.4, color="#222222")))
fig.add_trace(go.Heatmap(z=z_rows, colorscale=MUTATION_SCALE, zmin=0, zmax=10, showscale=False, ygap=0.6, xaxis=xa,
                         yaxis=ya, hoverinfo="skip"))
shapes.append(dict(type="line", xref="paper", yref="paper", x0=fx(608), x1=fx(608), y0=fy(581.3), y1=fy(761.4),
                   line=dict(color="#a8a8a8", width=1.4)))
note("<b>Concordant dMMR/MSI-H</b>", 513, 575.3, 7.4, color="#222222", anchor="center")
note("<b>Concordant pMMR/MSS</b>", 641, 575.3, 7.4, color="#222222", anchor="center")
note("<b>No mutation</b>", 498, 770.5, 7.4, color="#222222", anchor="right")
shapes.append(dict(type="rect", xref="paper", yref="paper", x0=fx(502), x1=fx(509.5), y0=fy(775), y1=fy(766),
                   fillcolor="#e8f1fb", line_width=0))
note("0", 505.7, 770.5, 6.5, color="#ffffff", anchor="center")
note("<b>No. of mutations</b>", 579, 770.5, 7.4, color="#222222", anchor="right")
xa, ya = add_axes((583, 685), (766, 775), [0.5, 10.5], [-0.5, 0.5])
fig.add_trace(go.Heatmap(z=[GRADIENT_VALUES], x=GRADIENT_VALUES, colorscale=MUTATION_SCALE, zmin=0, zmax=10, zsmooth="best",
                         showscale=False, xaxis=xa, yaxis=ya, hoverinfo="skip"))
note("1", 585, 770.5, 6.5, color="#ffffff")
note("10", 683, 770.5, 6.5, color="#ffffff", anchor="right")

for letter, x, y in [("A", 7, 7), ("B", 6, 483), ("C", 322, 484), ("D", 322, 572)]:
    note("<b>" + letter + "</b>", x, y, 12, color="#000000", anchor="center")

fig.update_layout(width=W, height=H, margin=dict(l=0, r=0, t=0, b=0, autoexpand=False), paper_bgcolor="white",
                  plot_bgcolor="white", showlegend=False, annotations=notes, shapes=shapes, violinmode="overlay", **layout)
fig.write_html("out.html", config={"displayModeBar": False}, post_script="document.body.style.margin='0';")
